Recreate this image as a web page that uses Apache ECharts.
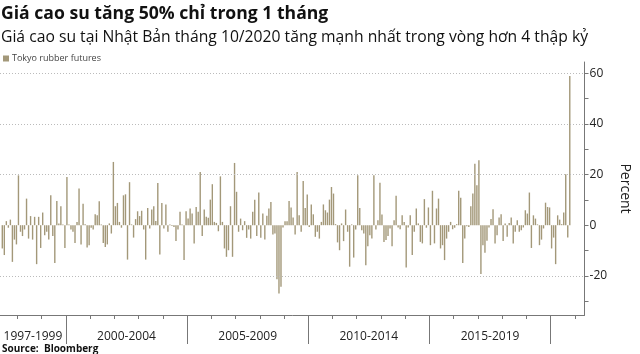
<!DOCTYPE html>
<html><head><meta charset="utf-8">
<script src="https://cdn.jsdelivr.net/npm/echarts@6/dist/echarts.min.js"></script>
<style>html,body{margin:0;padding:0;background:#fff}#c{width:640px;height:354px}</style>
</head><body><div id="c"></div>
<script>
const titleText = "Giá cao su tăng 50% chỉ trong 1 tháng";
const subtitleText = "Giá cao su tại Nhật Bản tháng 10/2020 tăng mạnh nhất trong vòng hơn 4 thập kỷ";
const seriesName = "Tokyo rubber futures";
const sourceText = "Source:  Bloomberg";
const baseYear = 1997;
const firstMonthIndex = 4; // May 1997, months counted from Jan 1997

// Monthly % change, Tokyo rubber futures
const v1997_1999 = [-9.2,-11.8,1.6,-1,2.2,-14.5,-5.7,-7.6,19.7,-2.6,-4.3,-1.7,10.5,-5.3,3.6,-5.7,3.3,-15.4,3.3,-9,5,-4,-2.6,-5.7,11.8,-4.3,-14.9,9.6,0.7,7.5,0.3,-9];
const v2000_2004 = [19,0.3,-1.7,-2.6,-7,1.3,14.5,-7.6,8.5,0.4,-8.8,-7.9,-1,-1.7,4.3,3.9,9.5,0.3,-7,-8.6,-7.6,0.7,-3.3,25,7.5,8.8,1.3,
  -1,11.8,12.2,-13.6,17,0.3,-4.9,2.4,5.5,3.6,5.7,-1.7,-13.6,6.8,-1.3,6.2,7.5,1.7,16.7,-11.6,8.8,-1.3,8.2,-2.6,0.3,-0.3,-0.7,-6.3,-1.7,5.3,0.3,-13.8,5.5];
const v2005_2009 = [2.6,6.6,4.6,-7.2,7.2,5.3,21,-4.3,6.2,3.3,2.9,10.1,16.2,1.3,0.9,-2.4,19.3,1.3,-9.2,-12.5,-9.9,7.5,-12.5,24.6,13.2,
  -2.6,2.6,-2,1.6,-5,-1.7,-5.3,5.3,10.1,-4.3,12.9,-5,4.6,-5.7,3.7,6.6,9.2,-3.7,-3.3,-21.4,-27,-24.3,-0.9,1.6,1.6,9.6,7,3,-3.7,21,3.9,-2.6,17.5,6.8,12.1];
const v2010_2014 = [-0.7,8.2,4.3,-4.6,-2.6,-5.3,1.3,8.2,5.9,5,10.1,15.1,12.5,0.4,-6.8,-9.9,0.7,-6.3,6.2,-2.6,-16.4,0.3,
  -12.8,-1.7,19.7,6.8,-2,-3.3,-15.8,-8.3,-4,-5.3,19.7,-1.7,2,16.8,4.2,-6.6,-5.9,-4.3,-1.3,-8.3,2,11.6,-0.9,-1.6,3.9,1.3,-16.7,-0.9,3.9,-11.8,-2.6,6.6,0.7,-6.6,-7.2,10.3,-1,7];
const v2015_2019 = [-7.9,13.6,-7.2,6.6,10.5,-9.2,-7.9,-13.8,-5.3,-2.6,1.3,-1.6,-1,0.4,13.6,10.8,-14.9,-5.3,-0.4,
  -0.7,7.5,12.5,24.3,15.8,25.7,-19.3,-7.9,-10.9,-6.2,-0.9,2.4,6.3,-7.2,-4,3,4.3,-6.3,0.7,-4.6,0.9,3,-7.2,-2.6,2,-2.6,-2,-0.9,5.9,4.6,12.9,-9,3.9,2.6,0.3,-7.9,-5.7,-1.3,8.9,7.2,7];
const v2020 = [-9.2,-4.9,-15.4,3.9,2.2,0.4,5,20.1,-4.9,59];

const periodLabels = ["1997-1999","2000-2004","2005-2009","2010-2014","2015-2019"];
const periodStartYears = [1997,2000,2005,2010,2015];
const periodEndYears = [1999,2004,2009,2014,2019];
const yTickValues = [-30,-20,-10,0,10,20,30,40,50,60];
const yLabelValues = [-20,0,20,40,60];
const gridLineValues = [60,40,20,-20];

const allValues = [].concat(v1997_1999, v2000_2004, v2005_2009, v2010_2014, v2015_2019, v2020);
const barData = allValues.map((v, i) => [firstMonthIndex + i + 0.5, v]);

const xMin = 3.36, xMax = 292.8;
const yearTicks = [];
for (let y = baseYear + 1; y <= 2021; y++) yearTicks.push((y - baseYear) * 12);
const periodBounds = periodStartYears.slice(1).map(y => (y - baseYear) * 12).concat([(2020 - baseYear) * 12]);
const labelCenters = periodStartYears.map((s, i) => {
  const a = Math.max((s - baseYear) * 12, xMin);
  const b = (periodEndYears[i] + 1 - baseYear) * 12;
  return (a + b) / 2;
});

const barColor = '#a39879';
const font = '"Open Sans", "Noto Sans", sans-serif';

const chart = echarts.init(document.getElementById('c'), null, {renderer: 'canvas'});
chart.setOption({
  animation: false,
  backgroundColor: '#fff',
  textStyle: {fontFamily: font},
  title: [
    {text: titleText, left: 1, top: 5, padding: 0,
     textStyle: {fontSize: 17.6, fontWeight: 'bold', color: '#111', fontFamily: font}},
    {text: subtitleText, left: 1, top: 30, padding: 0,
     textStyle: {fontSize: 15.7, fontWeight: 'normal', color: '#111', fontFamily: font}},
    {text: sourceText, left: 2, top: 344, padding: 0,
     textStyle: {fontSize: 10, fontWeight: 'bold', color: '#111', fontFamily: font}}
  ],
  legend: {
    left: 3, top: 54, padding: 0, icon: 'rect', itemWidth: 6, itemHeight: 6, itemGap: 4,
    textStyle: {fontSize: 9, color: '#444', fontFamily: font, padding: [0,0,0,-2]},
    data: [seriesName]
  },
  grid: {left: 0, right: 37, top: 62, bottom: 39, containLabel: false},
  xAxis: [
    {type: 'value', position: 'bottom', min: xMin, max: xMax,
     axisLine: {show: true, onZero: false, lineStyle: {color: '#777', width: 1}},
     axisTick: {show: true, customValues: yearTicks, length: 4, lineStyle: {color: '#777'}},
     axisLabel: {show: true, customValues: labelCenters, margin: 16, fontSize: 12, color: '#222', fontFamily: font,
       formatter: (val) => {
         const i = labelCenters.findIndex(c => Math.abs(c - val) < 0.01);
         return i >= 0 ? periodLabels[i] : '';
       }},
     splitLine: {show: false}},
    {type: 'value', position: 'bottom', min: xMin, max: xMax,
     axisLine: {show: false, onZero: false},
     axisTick: {show: true, customValues: periodBounds, length: 29, lineStyle: {color: '#777'}},
     axisLabel: {show: false}, splitLine: {show: false}}
  ],
  yAxis: {
    type: 'value', position: 'right', min: -35.5, max: 64.5,
    axisLine: {show: true, onZero: false, lineStyle: {color: '#777', width: 1}},
    axisTick: {show: true, customValues: yTickValues, length: 4, lineStyle: {color: '#777'}},
    axisLabel: {show: true, customValues: yLabelValues, margin: 5, fontSize: 12, color: '#222', fontFamily: font},
    splitLine: {show: false},
    name: 'Percent', nameLocation: 'middle', nameRotate: -90, nameGap: 31,
    nameTextStyle: {fontSize: 14, color: '#222', fontFamily: font}
  },
  series: [{
    name: seriesName, type: 'bar', xAxisIndex: 0, barWidth: 1.4,
    itemStyle: {color: barColor},
    data: barData,
    markLine: {
      silent: true, symbol: ['none','none'], label: {show: false},
      lineStyle: {type: [1, 2], color: '#bbb', width: 1},
      data: gridLineValues.map(v => ({yAxis: v}))
    }
  }]
});
</script></body></html>
